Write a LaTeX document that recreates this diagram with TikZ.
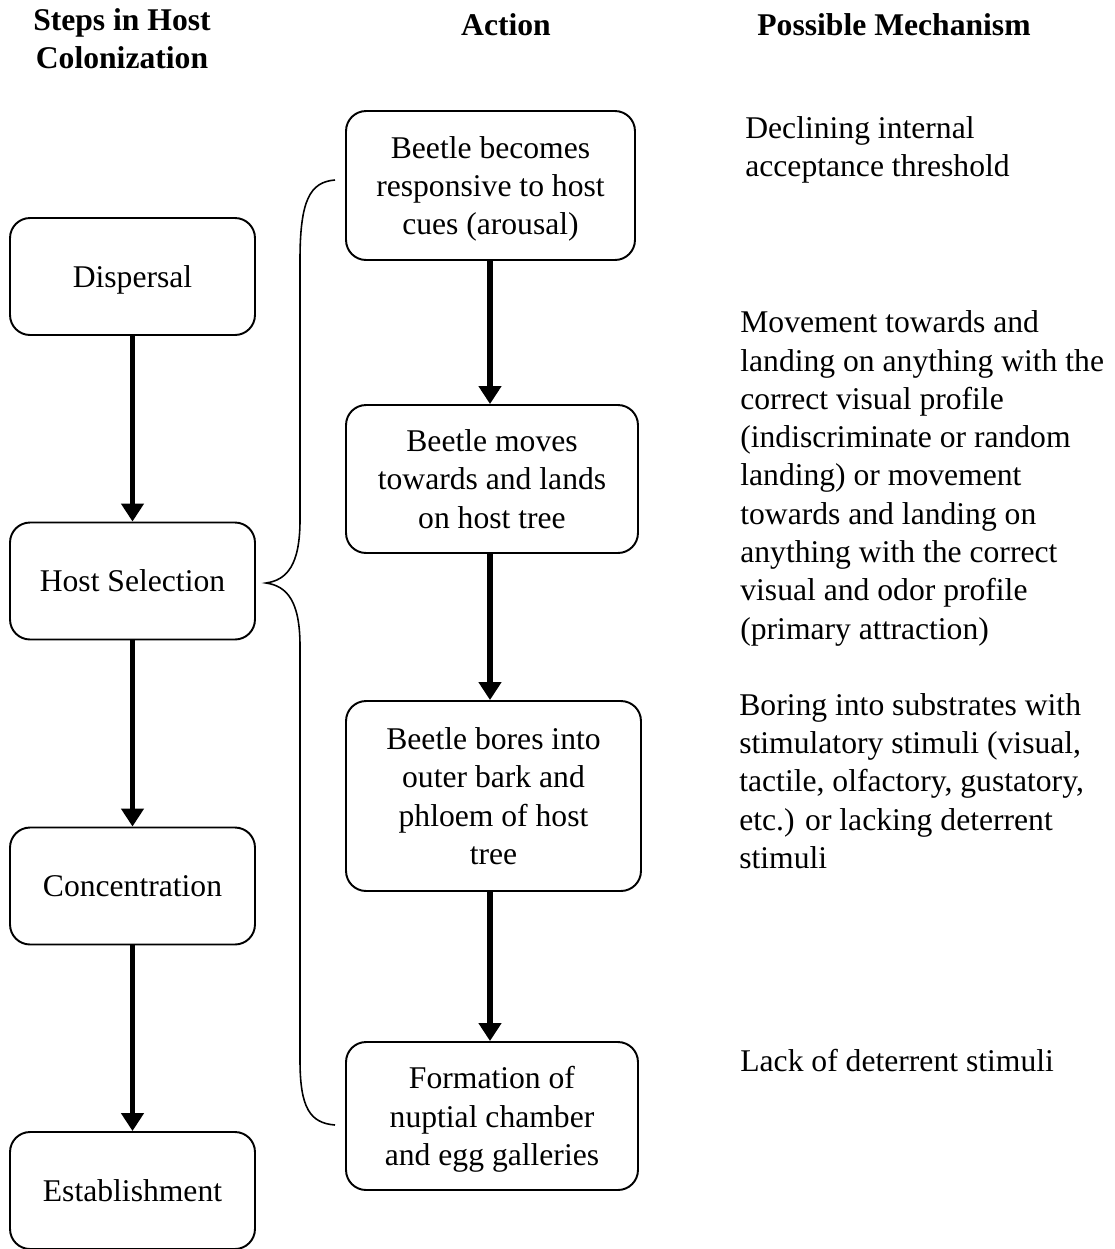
\documentclass[tikz,border=0pt]{standalone}
\usepackage{fontspec}
\setmainfont{Liberation Serif}
\usetikzlibrary{arrows.meta,positioning}

\begin{document}
\begin{tikzpicture}[x=0.02cm,y=-0.02cm,
        font=\fontsize{18}{21.8}\selectfont,
        box/.style={draw,rounded corners=0.4cm,line width=1.1pt,align=center,inner sep=2pt,text depth=0pt},
        stepbox/.style={box,minimum width=4.9cm,minimum height=2.34cm},
        head/.style={font=\fontsize{18}{21.8}\selectfont\bfseries,align=center},
        mech/.style={anchor=west,align=left,inner sep=0pt,text depth=0pt},
        flow/.style={line width=3.4pt,-{Triangle[length=0.36cm,width=0.44cm]}}]
        \useasboundingbox (0,0) rectangle (1115,1249);
        \node[head] (h1) at (122,39) {Steps in Host\\Colonization};
        \node[head] (h2) at (506,25) {Action};
        \node[head] (h3) at (894,25) {Possible Mechanism};

        \node[stepbox] (s1) at (132.5,276.5) {Dispersal};
        \node[stepbox] (s2) at (132.5,581) {Host Selection};
        \node[stepbox] (s3) at (132.5,886) {Concentration};
        \node[stepbox] (s4) at (132.5,1190.5) {Establishment};
        \draw  (s1) edge[flow] (s2);
        \draw  (s2) edge[flow] (s3);
        \draw  (s3) edge[flow] (s4);

        \node[box,minimum width=5.78cm,minimum height=2.98cm] (a1) at (490.5,185.5) {Beetle becomes\\responsive to host\\cues (arousal)};
        \node[box,minimum width=5.84cm,minimum height=2.96cm] (a2) at (492,479) {Beetle moves\\towards and lands\\on host tree};
        \node[box,minimum width=5.9cm,minimum height=3.8cm] (a3) at (493.5,796) {Beetle bores into\\outer bark and\\phloem of host\\tree};
        \node[box,minimum width=5.84cm,minimum height=2.96cm] (a4) at (492,1116) {Formation of\\nuptial chamber\\and egg galleries};
        \draw  (a1.south -| 490,0) edge[flow] (a2.north -| 490,0);
        \draw  (a2.south -| 490,0) edge[flow] (a3.north -| 490,0);
        \draw  (a3.south -| 490,0) edge[flow] (a4.north -| 490,0);

        \node[mech] (m1) at (745,146.5) {Declining internal\\acceptance threshold};
        \node[mech] (m2) at (740,475) {Movement towards and\\landing on anything with the\\correct visual profile\\(indiscriminate or random\\landing) or movement\\towards and landing on\\anything with the correct\\visual and odor profile\\(primary attraction)};
        \node[mech] (m3) at (739,781) {Boring into substrates with\\stimulatory stimuli (visual,\\tactile, olfactory, gustatory,\\etc.) or lacking deterrent\\stimuli};
        \node[mech] (m4) at (740,1060) {Lack of deterrent stimuli};

        % brace grouping the actions
        \coordinate (b1) at (335,180);
        \coordinate (b2) at (266,583);
        \coordinate (b3) at (335,1125);
        \draw[line width=0.9pt] (b1) .. controls (310,182) and (300,200) .. (300,260) -- (300,520)
            .. controls (300,565) and (287,580) .. (b2)
            .. controls (287,586) and (300,601) .. (300,646) -- (300,1060)
            .. controls (300,1108) and (310,1123) .. (b3);
    \end{tikzpicture}
\end{document}
